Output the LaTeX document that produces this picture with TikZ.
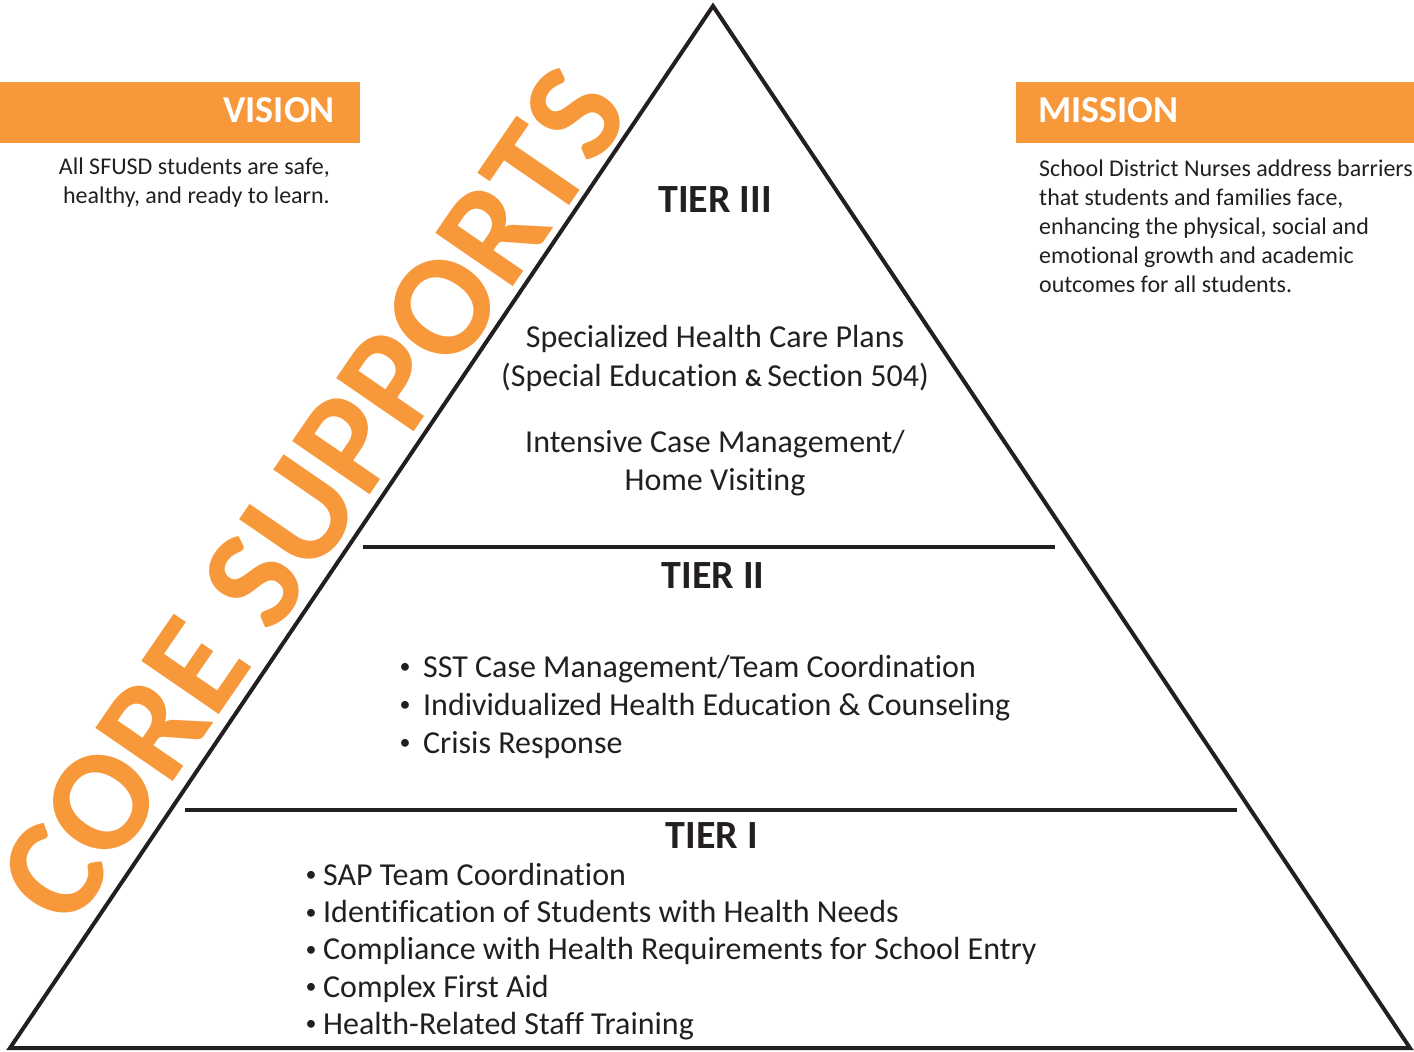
\documentclass[tikz,border=0pt]{standalone}
\usepackage{fontspec}
\setmainfont{Carlito}[Ligatures={TeX,NoCommon}]
\definecolor{coreorange}{RGB}{247,153,59}
\definecolor{ink}{RGB}{35,31,32}
\newcommand{\dotmark}{\raisebox{3.5pt}{\fontsize{22}{22}\selectfont\textbullet}}
\tikzset{
  edge/.style={ink,line width=4pt,line join=miter},
  divider/.style={ink,line width=4.5pt},
  bannertext/.style={white,font=\bfseries\fontsize{38}{46}\selectfont,inner sep=0pt},
  blurb/.style={ink,font=\fontsize{24}{29}\selectfont,inner sep=0pt},
  tiertitle/.style={ink,font=\bfseries\fontsize{40}{48}\selectfont,inner sep=0pt,anchor=base},
  tiertext/.style={ink,font=\fontsize{32}{38}\selectfont,inner sep=0pt,anchor=base},
  coretext/.style={coreorange,font=\bfseries\fontsize{145}{160}\selectfont,
    inner sep=0pt,anchor=base west,rotate=55.5},
}

\begin{document}
\begin{tikzpicture}[x=1pt,y=-1pt]
  \useasboundingbox (0,0) rectangle (1414,1052);
  \fill[coreorange] (0,82) rectangle (360,143);
  \fill[coreorange] (1016,82) rectangle (1414,143);
  \node[bannertext,anchor=base east] at (335,122) (vision) {VISION};
  \node[bannertext,anchor=base west] at (1038,122) (mission) {MISSION};
  \node[blurb,anchor=base east] at (330,174) (v1) {All SFUSD students are safe,};
  \node[blurb,anchor=base east] at (330,203) (v2) {healthy, and ready to learn.};
  \foreach \txt [count=\i] in {{School District Nurses address barriers},
      {that students and families face,},{enhancing the physical, social and},
      {emotional growth and academic},{outcomes for all students.}}
    \node[blurb,anchor=base west] at (1039,{147+29*\i}) (m\i) {\txt};

  \node[coretext] at (70,932) (core) {CORE SUPPORTS};

  \coordinate (apex) at (713,6);
  \coordinate (bl) at (10,1048);
  \coordinate (br) at (1410,1048);
  \draw[edge] (bl) -- (apex) -- (br) -- cycle;
  \draw[divider] (363,547) -- (1055,547);
  \draw[divider] (185,810) -- (1237,810);

  \node[tiertitle] at (715,212) (t3) {TIER III};
  \node[tiertext] at (715,347) (t3a) {Specialized Health Care Plans};
  \node[tiertext] at (715,386) (t3b)
    {(Special Education {\bfseries\fontsize{24}{24}\selectfont\&}\,Section 504)};
  \node[tiertext] at (715,452) (t3c) {Intensive Case Management/};
  \node[tiertext] at (715,490) (t3d) {Home Visiting};

  \node[tiertitle] at (713,588) (t2) {TIER II};
  \foreach \txt [count=\i] in {SST Case Management/Team Coordination,
      Individualized Health Education \& Counseling,Crisis Response}
    \node[tiertext,anchor=base west] at (399.5,{639+38*\i}) (two\i)
      {\dotmark\hspace{12.5pt}\txt};

  \node[tiertitle] at (712,848) (t1) {TIER I};
  \foreach \txt [count=\i] in {SAP Team Coordination,
      Identification of Students with Health Needs,
      Compliance with Health Requirements for School Entry,
      Complex First Aid,Health-Related Staff Training}
    \node[tiertext,anchor=base west] at (305.5,{848+37.25*\i}) (one\i)
      {\dotmark\hspace{6.5pt}\txt};
\end{tikzpicture}
\end{document}
